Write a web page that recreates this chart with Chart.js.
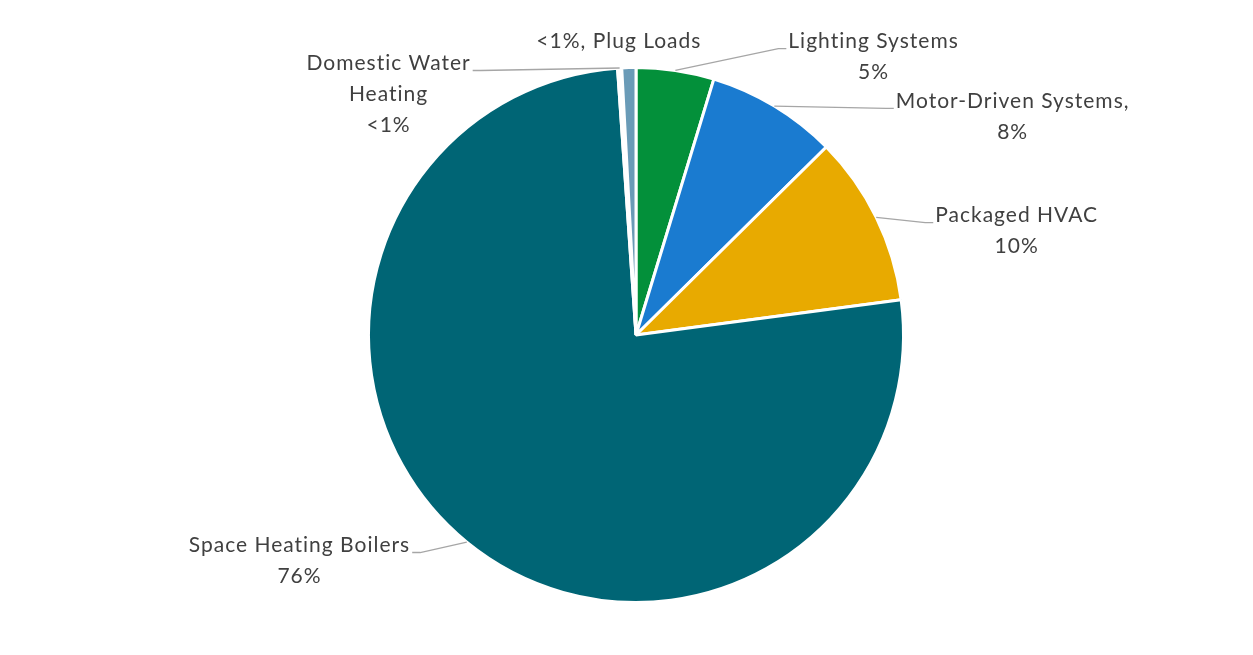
<!DOCTYPE html>
<html>
<head>
<meta charset="utf-8">
<script src="https://cdn.jsdelivr.net/npm/chart.js@4.4.1/dist/chart.umd.min.js"></script>
<style>
  html, body { margin: 0; padding: 0; background: #ffffff; }
  #wrap { width: 1253px; height: 655px; position: relative; }
</style>
</head>
<body>
<div id="wrap"><canvas id="grafico-pie"></canvas></div>
<script>
// Categories in clockwise order from 12 o'clock
const categories = ['Lighting Systems', 'Motor-Driven Systems', 'Packaged HVAC', 'Space Heating Boilers', 'Domestic Water Heating', 'Plug Loads'];
// Share of energy use (%)
const shares = [4.7, 7.9, 10.3, 76.0, 0.25, 0.85];
// Labels as printed beside each slice
const labelLines = [
    ['Lighting Systems', '5%'],
    ['Motor-Driven Systems,', '8%'],
    ['Packaged HVAC', '10%'],
    ['Space Heating Boilers', '76%'],
    ['Domestic Water', 'Heating', '<1%'],
    ['<1%, Plug Loads']
];
const sliceColors = ['#03903a', '#1a7bd0', '#e8aa00', '#006575', '#ffffff', '#6a9bb7'];

// label layout: centre of text relative to pie centre, in radius units, and side the leader attaches to
const labelLayout = [
    { dx: 0.888, dy: -1.097, side: 'left' },
    { dx: 1.408, dy: -0.873, side: 'left' },
    { dx: 1.423, dy: -0.446, side: 'left' },
    { dx: -1.258, dy: 0.787, side: 'right' },
    { dx: -0.925, dy: -1.015, side: 'right' },
    { dx: -0.064, dy: -1.097, side: null }
];

const sliceLabels = {
    id: 'sliceLabels',
    afterDatasetsDraw(chart) {
        const ctx = chart.ctx;
        const meta = chart.getDatasetMeta(0);
        ctx.save();
        ctx.font = '21px Lato';
        ctx.letterSpacing = '1px';
        ctx.textAlign = 'center';
        ctx.textBaseline = 'middle';
        meta.data.forEach((arc, i) => {
            const p = arc.getProps(['x', 'y', 'outerRadius', 'startAngle', 'endAngle'], true);
            const lay = labelLayout[i];
            const lines = labelLines[i];
            const cx = p.x + lay.dx * p.outerRadius;
            const cy = p.y + lay.dy * p.outerRadius;

            if (lay.side) {
                const mid = (p.startAngle + p.endAngle) / 2;
                const ax = p.x + Math.cos(mid) * p.outerRadius;
                const ay = p.y + Math.sin(mid) * p.outerRadius;
                const w = ctx.measureText(lines[0]).width;
                const dir = lay.side === 'left' ? -1 : 1;
                const ex = cx + dir * (w / 2 + 2);
                const ey = cy + 7;
                ctx.strokeStyle = '#a6a6a6';
                ctx.lineWidth = 1.3;
                ctx.beginPath();
                ctx.moveTo(ax, ay);
                ctx.lineTo(ex + dir * 8, ey);
                ctx.lineTo(ex, ey);
                ctx.stroke();
            }

            ctx.fillStyle = '#404040';
            lines.forEach((t, k) => {
                ctx.fillText(t, cx, cy + k * 31);
            });
        });
        ctx.restore();
    }
};

const ctx = document.getElementById('grafico-pie').getContext('2d');
const chart = new Chart(ctx, {
    type: 'pie',
    data: {
        labels: categories,
        datasets: [{
            data: shares,
            backgroundColor: sliceColors,
            borderColor: '#ffffff',
            borderWidth: 3
        }]
    },
    options: {
        responsive: true,
        maintainAspectRatio: false,
        animation: false,
        layout: {
            padding: { top: 66, bottom: 51, left: 19, right: 0 }
        },
        plugins: {
            legend: { display: false },
            tooltip: { enabled: false }
        }
    },
    plugins: [sliceLabels]
});
</script>
</body>
</html>
